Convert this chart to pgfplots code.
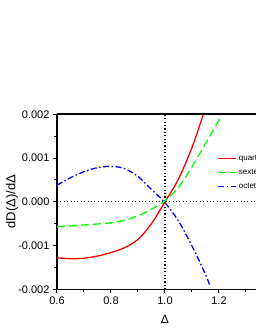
\documentclass[border=0pt]{standalone}
\usepackage{fontspec}
\setmainfont{Liberation Sans}
\usepackage{pgfplots}
\pgfplotsset{compat=1.18}
\begin{document}
\begin{tikzpicture}[x=1pt,y=1pt]
\useasboundingbox (0,0) rectangle (255,330);
\begin{axis}[
  at={(57pt,40.7pt)}, anchor=south west,
  scale only axis, width=216pt, height=175pt,
  xmin=0.6, xmax=1.4, ymin=-0.002, ymax=0.002,
  axis line style={line width=1.5pt},
  xtick={0.6,0.8,1.0,1.2}, minor xtick={0.7,0.9,1.1,1.3},
  ytick={-0.002,-0.001,0,0.001,0.002},
  minor ytick={-0.0015,-0.0005,0.0005,0.0015},
  tick align=outside, tick pos=left,
  major tick length=4pt, minor tick length=2.5pt,
  every tick/.style={black, line width=1pt},
  scaled y ticks=false,
  clip=false,
  xticklabel style={/pgf/number format/fixed,/pgf/number format/fixed zerofill,/pgf/number format/precision=1},
  yticklabel style={/pgf/number format/fixed,/pgf/number format/fixed zerofill,/pgf/number format/precision=3},
  /pgf/number format/assume math mode=true,
  tick label style={font=\fontsize{11}{13}\selectfont},
  xlabel={Δ}, ylabel={dD(Δ)/dΔ},
  every axis x label/.style={at={(axis description cs:0.5,0)}, yshift=-30pt, anchor=center, font=\fontsize{12}{14}\selectfont},
  every axis y label/.style={at={(axis description cs:0,0.5)}, xshift=-45pt, rotate=90, anchor=center, font=\fontsize{13}{15}\selectfont},
  legend style={draw=none, fill=none, at={(axis cs:1.194,0.00112)}, anchor=north west, inner sep=0pt, row sep=3.5pt, font=\fontsize{8}{9.6}\selectfont},
  legend cell align=left,
  legend image code/.code={\draw[#1, line width=1.3pt] (0pt,0pt) -- (18pt,0pt);},
]
\addplot[forget plot, black, line width=1.1pt, dash pattern=on 1.1pt off 2.3pt] coordinates {(1,-0.002) (1,0.002)};
\addplot[forget plot, black, line width=1.1pt, dash pattern=on 1.1pt off 2.3pt] coordinates {(0.6,0) (1.4,0)};
\addplot[forget plot, black, line width=1.8pt] coordinates {(0.6,0.002) (1.4,0.002)};
\addplot[red, line width=1.3pt, smooth] coordinates {
(0.60,-0.00128) (0.65,-0.00130) (0.70,-0.00129) (0.75,-0.00124) (0.80,-0.00116)
(0.85,-0.00105) (0.90,-0.00086) (0.95,-0.00050) (1.00,0.00000) (1.05,0.00052)
(1.10,0.00124) (1.142,0.00200)};
\addlegendentry{quartet}
\addplot[green, line width=1.3pt, smooth, dash pattern=on 8pt off 4pt] coordinates {
(0.60,-0.00057) (0.70,-0.00053) (0.80,-0.00048) (0.85,-0.00042) (0.90,-0.00032)
(0.95,-0.00017) (1.00,0.00002) (1.05,0.00033) (1.10,0.00080) (1.15,0.00133)
(1.20,0.00187) (1.205,0.00192)};
\addlegendentry{sextet}
\addplot[blue, line width=1.3pt, smooth, dash pattern=on 6pt off 2.5pt on 1.5pt off 2.5pt] coordinates {
(0.60,0.00038) (0.65,0.00055) (0.70,0.00069) (0.75,0.00078) (0.80,0.00081)
(0.85,0.00076) (0.90,0.00058) (0.95,0.00028) (1.00,-0.00002) (1.05,-0.00044)
(1.10,-0.00101) (1.15,-0.00166) (1.167,-0.00193)};
\addlegendentry{octet}
\end{axis}
\end{tikzpicture}
\end{document}
